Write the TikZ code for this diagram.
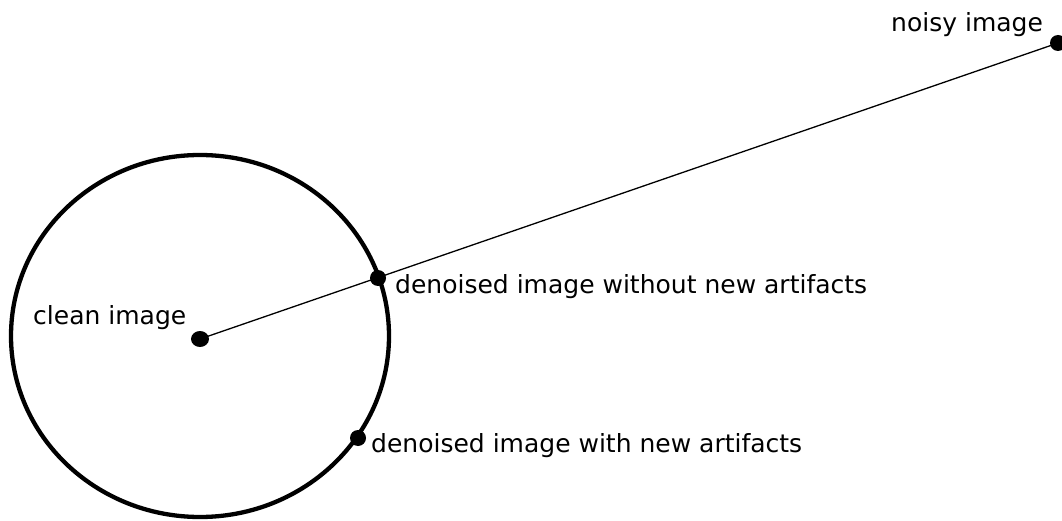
\documentclass[tikz,border=0pt]{standalone}
\usepackage{fontspec}
\setmainfont{DejaVu Sans}
\begin{document}
\begin{tikzpicture}[x=1pt,y=-1pt,
  lbl/.style={inner sep=0pt,anchor=base west,font=\fontsize{25}{29}\selectfont},
  dot/.style={fill=black}]
\useasboundingbox (0,0) rectangle (1062,521);
% image space: the ball of clean-looking images
\draw[line width=4.3pt] (200,336) ellipse [x radius=189,y radius=181];
% points
\coordinate (clean) at (200,339);
\coordinate (noisy) at (1058,43);
\coordinate (good) at (378,278);
\coordinate (bad) at (358,438);
\draw[line width=1.3pt] (clean) -- (noisy);
\fill[dot] (clean) ellipse [x radius=9,y radius=8];
\fill[dot] (good) circle (8);
\fill[dot] (bad) circle (8);
\fill[dot] (noisy) circle (8);
% labels
\node[lbl] (lclean) at (33,324) {clean image};
\node[lbl] (lnoisy) at (891,32) {noisy image};
\node[lbl] (lgood) at (395,293) {denoised image without new artifacts};
\node[lbl] (lbad) at (371,452) {denoised image with new artifacts};
\end{tikzpicture}
\end{document}
